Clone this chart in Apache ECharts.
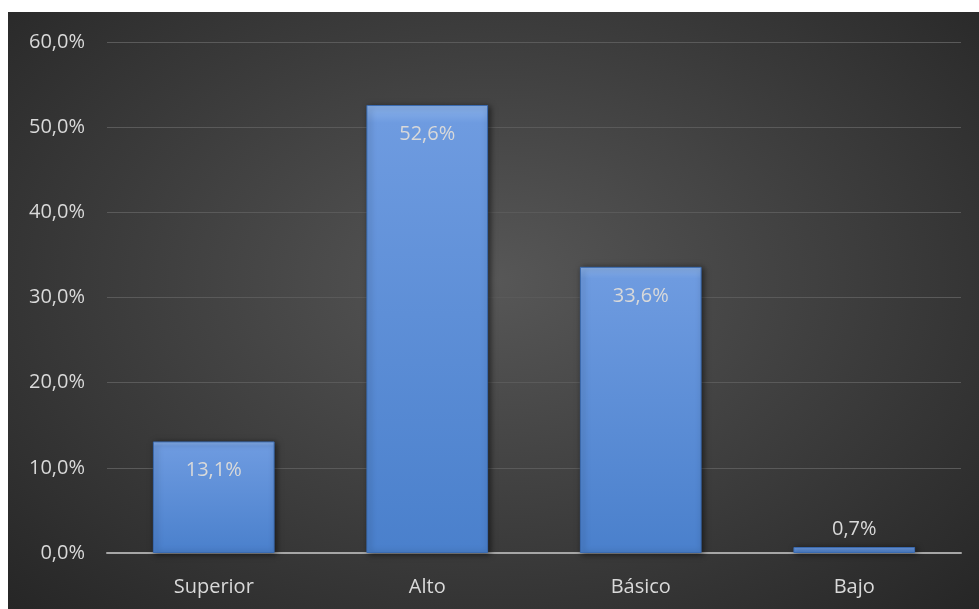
<!DOCTYPE html>
<html>
<head>
<meta charset="utf-8">
<script src="https://cdn.jsdelivr.net/npm/echarts@6/dist/echarts.min.js"></script>
<style>
  html, body { margin: 0; padding: 0; background: #fff; }
  #chart {
    position: absolute; left: 8px; top: 12px; width: 971px; height: 597px;
    background: radial-gradient(ellipse at 50% 45%, #575757 0%, #3c3c3c 55%, #262626 100%);
  }
</style>
</head>
<body>
<div id="chart"></div>
<script>
// datos del gráfico
const categorias = ["Superior", "Alto", "Básico", "Bajo"]
const porcentajes = [13.1, 52.6, 33.6, 0.7]
const ticksY = [0, 10, 20, 30, 40, 50, 60]

function fmt(v) {
  return v.toFixed(1).replace(".", ",") + "%"
}

let myChart = echarts.init(document.getElementById("chart"))
myChart.setOption({
  backgroundColor: "transparent",
  textStyle: { fontFamily: "Open Sans" },
  grid: { left: 99, right: 18, top: 30, bottom: 56 },
  xAxis: {
    type: "category",
    data: categorias,
    axisLine: { lineStyle: { color: "#a6a6a6", width: 2 } },
    axisTick: { show: false },
    axisLabel: { color: "#d9d9d9", fontSize: 20, margin: 24 }
  },
  yAxis: {
    type: "value",
    min: ticksY[0],
    max: ticksY[ticksY.length - 1],
    interval: 10,
    axisLine: { show: false },
    axisTick: { show: false },
    splitLine: { lineStyle: { color: "#5a5a5a", width: 1 } },
    axisLabel: { color: "#d9d9d9", fontSize: 20, margin: 22, formatter: fmt }
  },
  series: [
    {
      type: "bar",
      barWidth: "57%",
      data: porcentajes.map((v, i) => ({
        value: v,
        label: v < 3 ? { position: "top", distance: 8 } : undefined
      })),
      itemStyle: {
        color: new echarts.graphic.LinearGradient(0, 0, 0, 1, [
          { offset: 0, color: "#8bb2ea" },
          { offset: 0.04, color: "#6e9be0" },
          { offset: 1, color: "#4a80cc" }
        ]),
        borderColor: "#3b6bb0",
        borderWidth: 1,
        shadowColor: "rgba(0,0,0,0.55)",
        shadowBlur: 6,
        shadowOffsetX: 2,
        shadowOffsetY: 1
      },
      label: {
        show: true,
        position: "insideTop",
        distance: 19,
        color: "#d9d9d9",
        fontSize: 20,
        formatter: p => fmt(p.value)
      }
    }
  ]
})
</script>
</body>
</html>
